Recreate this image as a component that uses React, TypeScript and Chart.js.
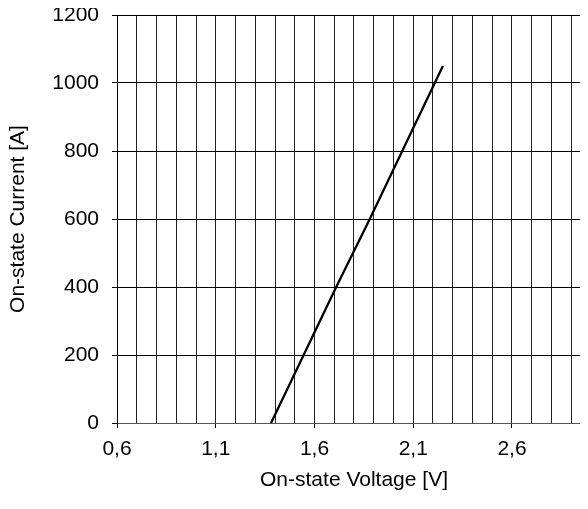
import React, { useEffect, useRef } from "react";
import { Chart, registerables } from "chart.js";

Chart.register(...registerables);

// Data
const voltage = [1.38, 1.71, 1.88, 2.25];
const current = [0, 400, 600, 1050];

const xMin = 0.6;
const xMax = 3.0;
const xStep = 0.1;
const yMin = 0;
const yMax = 1200;
const yStep = 200;

const xTitle = "On-state Voltage [V]";
const yTitle = "On-state Current [A]";

const FONT = "'Liberation Sans', Arial, Helvetica, sans-serif";

export default function App() {
  const ref = useRef<HTMLCanvasElement | null>(null);

  useEffect(() => {
    const canvas = ref.current;
    if (!canvas) return;
    const points = voltage.map((v, i) => ({ x: v, y: current[i] }));
    const chart = new Chart(canvas, {
      type: "scatter",
      data: {
        datasets: [
          {
            data: points,
            showLine: true,
            borderColor: "#000",
            backgroundColor: "#000",
            borderWidth: 2.3,
            pointRadius: 0,
            tension: 0,
          },
        ],
      },
      options: {
        responsive: false,
        animation: false,
        layout: { padding: { left: 0, top: 7, right: 17, bottom: 0 } },
        plugins: { legend: { display: false }, tooltip: { enabled: false } },
        scales: {
          x: {
            type: "linear",
            min: xMin,
            max: xMax,
            afterFit: (scale: any) => {
              scale.height = 86;
              scale.paddingLeft = 0;
              scale.paddingRight = 0;
            },
            ticks: {
              stepSize: xStep,
              autoSkip: false,
              maxRotation: 0,
              padding: 9,
              color: "#000",
              font: { family: FONT, size: 21 },
              callback: (value: any, index: number) =>
                index % 5 === 0 ? Number(value).toFixed(1).replace(".", ",") : "",
            },
            grid: {
              color: "#222",
              lineWidth: 1,
              drawTicks: true,
              tickLength: 5,
              tickColor: (ctx: any) => (ctx.index % 5 === 0 ? "#000" : "rgba(0,0,0,0)"),
            },
            border: { display: true, color: "#555", width: 1 },
            title: {
              display: true,
              text: xTitle,
              color: "#000",
              font: { family: FONT, size: 21, lineHeight: 1 },
              padding: { top: 0, bottom: 18 },
            },
          },
          y: {
            type: "linear",
            min: yMin,
            max: yMax,
            afterFit: (scale: any) => {
              scale.width = 109;
              scale.paddingTop = 0;
              scale.paddingBottom = 0;
            },
            ticks: {
              stepSize: yStep,
              padding: 13,
              color: "#000",
              font: { family: FONT, size: 21 },
              callback: (value: any) => String(value),
            },
            grid: {
              color: "#000",
              lineWidth: 1,
              drawTicks: true,
              tickLength: 5,
              tickColor: "#000",
            },
            border: { display: true, color: "#000", width: 1 },
            title: {
              display: true,
              text: yTitle,
              color: "#000",
              font: { family: FONT, size: 21, lineHeight: 1 },
              padding: { top: 0, bottom: 0 },
            },
          },
        },
      },
    });
    return () => chart.destroy();
  }, []);

  return (
    <div style={{ width: 580, height: 501, overflow: "hidden", background: "#fff" }}>
      <canvas ref={ref} width={600} height={501} style={{ width: 600, height: 501, display: "block" }} />
    </div>
  );
}
